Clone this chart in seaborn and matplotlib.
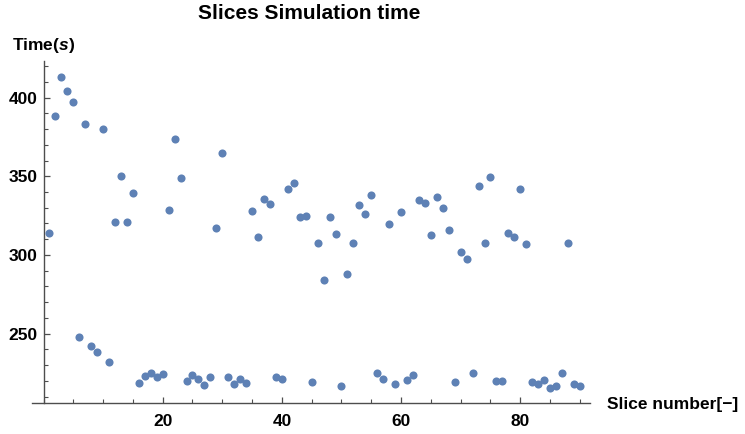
import matplotlib
matplotlib.use("Agg")
import matplotlib.pyplot as plt
import seaborn as sns
import pandas as pd
from matplotlib.ticker import MultipleLocator

slice_number = list(range(1, 91))
sim_time = [
    314.0, 388.6, 413.0, 404.5, 397.5, 247.7, 383.1, 241.9, 238.2, 380.1,
    231.8, 321.0, 350.2, 321.2, 339.2, 218.6, 222.9, 225.0, 222.4, 224.5,
    328.6, 373.5, 348.8, 219.9, 223.7, 221.4, 217.4, 222.4, 317.2, 364.8,
    222.4, 218.2, 221.0, 218.6, 327.8, 311.4, 335.4, 332.6, 222.4, 221.0,
    342.0, 346.0, 324.2, 324.8, 219.1, 307.4, 284.1, 324.0, 313.2, 216.9,
    288.1, 307.4, 331.6, 326.3, 338.0, 224.8, 221.4, 319.9, 218.0, 327.5,
    220.5, 223.5, 335.0, 333.2, 312.7, 336.9, 329.9, 316.1, 219.5, 301.7,
    297.5, 225.2, 343.7, 307.4, 349.6, 220.1, 220.1, 314.2, 311.6, 341.8,
    307.0, 219.5, 218.2, 220.7, 215.6, 216.9, 225.2, 307.8, 218.0, 216.5,
]
x_major_ticks = [20, 40, 60, 80]
y_major_ticks = [250, 300, 350, 400]
title_text = "Slices Simulation time"
y_label_text = "Time($\\mathit{s}$)"
x_label_text = "Slice number[\u2212]"

sns.set_theme(style="white")
plt.rcParams["font.family"] = ["Liberation Sans", "DejaVu Sans"]
plt.rcParams["font.weight"] = "bold"
plt.rcParams["mathtext.fontset"] = "custom"
plt.rcParams["mathtext.it"] = "Liberation Sans:italic:bold"
plt.rcParams["mathtext.rm"] = "Liberation Sans:bold"

W, H = 745, 434
fig = plt.figure(figsize=(W / 100, H / 100), dpi=100)
left_px, right_px, top_px, bottom_px = 32.3, 590.0, 61.0, 403.3
ax = fig.add_axes([left_px / W, 1 - bottom_px / H,
                   (right_px - left_px) / W, (bottom_px - top_px) / H])

df = pd.DataFrame({"slice": slice_number, "time": sim_time})
sns.scatterplot(data=df, x="slice", y="time", ax=ax, color="#5E81B5",
                s=34, linewidth=0, legend=False, clip_on=False, zorder=3)

ax.set_xlim(-1.88, 91.7)
ax.set_ylim(205.7, 423.3)
ax.set_xlabel("")
ax.set_ylabel("")
ax.grid(False)
ax.set_facecolor("white")

for s in ["top", "right"]:
    ax.spines[s].set_visible(False)
ax.spines["left"].set_position(("data", 0))
for s in ["left", "bottom"]:
    ax.spines[s].set_color("#4d4d4d")
    ax.spines[s].set_linewidth(1.0)

ax.xaxis.set_major_locator(plt.FixedLocator(x_major_ticks))
ax.yaxis.set_major_locator(plt.FixedLocator(y_major_ticks))
ax.xaxis.set_minor_locator(MultipleLocator(5))
ax.yaxis.set_minor_locator(MultipleLocator(10))
ax.tick_params(axis="both", which="both", bottom=True, left=True,
               top=False, right=False)
ax.tick_params(axis="both", which="major", direction="in", length=4.5,
               width=0.9, color="#4d4d4d", labelsize=12.5, labelcolor="black")
ax.tick_params(axis="both", which="minor", direction="in", length=2.8,
               width=0.8, color="#4d4d4d")
ax.tick_params(axis="y", which="major", pad=4.5)
ax.tick_params(axis="x", which="major", pad=7.5)
for lab in ax.get_xticklabels() + ax.get_yticklabels():
    lab.set_fontweight("bold")

fig.text(309 / W, 1 - 19 / H, title_text, ha="center", va="baseline",
         fontsize=15, fontweight="bold", color="black")
fig.text(11.7 / W, 1 - 50 / H, y_label_text, ha="left", va="baseline",
         fontsize=12.5, fontweight="bold", color="black")
fig.text(606.7 / W, 1 - 409.3 / H, x_label_text, ha="left", va="baseline",
         fontsize=12.5, fontweight="bold", color="black")

fig.savefig("out.png", dpi=100, facecolor="white")
